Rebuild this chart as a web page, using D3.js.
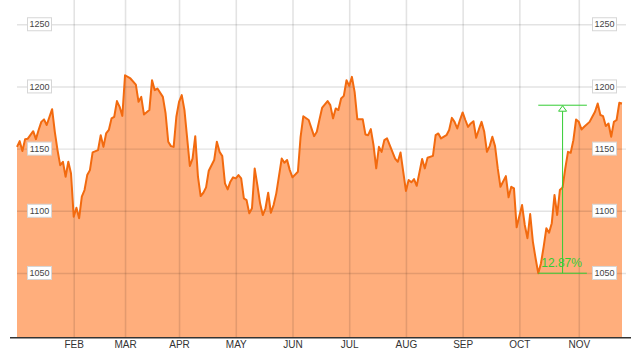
<!DOCTYPE html>
<html>
<head>
<meta charset="utf-8">
<script src="https://cdnjs.cloudflare.com/ajax/libs/d3/7.8.5/d3.min.js"></script>
<style>
    html, body { margin: 0; padding: 0; background: #fff; }
    svg { display: block; font-family: Arial, "Liberation Sans", sans-serif; }
    .grid line { stroke: #000; stroke-opacity: 0.11; }
    .grid path { display: none; }
    .area { fill: #ffae7c; }
    .price { fill: none; stroke: #f26a0f; stroke-width: 2; stroke-linejoin: round; }
    .value-label rect { fill: #fff; stroke: #d6d6d6; }
    .value-label text { font-size: 9px; fill: #444; }
    .month-axis path { display: none; }
    .month-axis text { font-size: 10px; fill: #333; }
    .baseline { stroke: #333; stroke-width: 1.5; }
    .swing line { stroke: #33cc33; stroke-width: 1; }
    .swing path { fill: #fff; stroke: #33cc33; stroke-width: 1; }
    .swing text { fill: #33cc33; font-size: 12px; }
</style>
</head>
<body>
<div id="chart"></div>
<script>
(function () {
    "use strict";

    // [trading session, close]
    const prices = [
        [0, 1151.4], [1, 1156], [2, 1148], [3, 1157.6], [4, 1158], [6, 1164], [7, 1157.6], [8, 1165],
        [9, 1171.5], [10, 1173.5], [11, 1169], [13, 1181.7], [14, 1163.5], [15, 1148.8], [16, 1136.7],
        [17, 1139.4], [18, 1127.4], [19, 1139.4], [20, 1130], [21, 1095.2], [22, 1102.5], [23, 1094],
        [24, 1111.3], [25, 1116.7], [26, 1128.7], [27, 1132.7], [28, 1146.9], [30, 1148.8], [31, 1160.8],
        [32, 1151.4], [33, 1162.2], [34, 1165], [35, 1174.3], [36, 1175.6], [37, 1188.2], [38, 1183.6],
        [39, 1176.3], [40, 1209], [42, 1206.4], [44, 1201.5], [45, 1187.6], [46, 1191.6], [47, 1177.5],
        [49, 1181], [50, 1205], [51, 1197], [52, 1198.3], [54, 1191.6], [55, 1178.5], [56, 1155.5],
        [57, 1152], [58, 1151.4], [59, 1175.6], [60, 1187.6], [61, 1193], [62, 1181], [64, 1136],
        [65, 1142], [66, 1160], [67, 1127.4], [68, 1111.8], [69, 1114.5], [70, 1118.8], [71, 1132.2],
        [73, 1140.8], [74, 1155.5], [75, 1147.4], [76, 1144], [77, 1122], [78, 1117.2], [79, 1123.4],
        [80, 1126.9], [81, 1126.1], [82, 1128.7], [83, 1126.1], [84, 1110], [85, 1108.6], [86, 1097.9],
        [87, 1102], [88, 1134], [89, 1120.7], [90, 1106], [91, 1096.6], [92, 1102], [93, 1114.5],
        [94, 1098.4], [95, 1104.6], [96, 1114], [98, 1142], [99, 1138.6], [100, 1140.8], [101, 1132.7],
        [102, 1126.9], [104, 1131.4], [105, 1159.5], [106, 1176], [108, 1173], [110, 1160], [111, 1163.5],
        [112, 1173.5], [113, 1183], [115, 1188.2], [116, 1185], [117, 1174.3], [118, 1182.3], [119, 1181],
        [120, 1190.3], [121, 1192.4], [122, 1205], [123, 1200.4], [124, 1207.7], [125, 1195.6],
        [126, 1173.7], [128, 1173.7], [129, 1161.4], [130, 1160.8], [131, 1165.7], [132, 1152.8],
        [133, 1134.1], [134, 1151.4], [135, 1147.4], [136, 1156.8], [137, 1158.2], [138, 1152.8],
        [140, 1142], [141, 1139.4], [142, 1146.9], [143, 1131.4], [144, 1116], [145, 1124.7],
        [146, 1122.9], [147, 1125.5], [148, 1120.1], [149, 1130.9], [150, 1141.6], [151, 1134.1],
        [152, 1142.6], [154, 1144.2], [155, 1160.8], [156, 1162.2], [157, 1158.2], [159, 1160.8],
        [160, 1164.9], [161, 1174.7], [162, 1171.5], [163, 1166.2], [164, 1173], [165, 1179.1],
        [166, 1173], [167, 1167.5], [168, 1170.2], [169, 1172], [170, 1158.7], [171, 1165.4],
        [172, 1171.5], [173, 1163.5], [174, 1147.4], [175, 1152], [176, 1159.5], [177, 1152],
        [178, 1134.1], [179, 1119.3], [181, 1127.9], [182, 1110.8], [183, 1119.3], [184, 1118],
        [185, 1086.7], [186, 1095.8], [187, 1104.6], [188, 1088.6], [189, 1077.9], [190, 1097.4],
        [191, 1075.2], [192, 1061.8], [193, 1049.8], [194, 1057.8], [195, 1071.2], [196, 1086],
        [197, 1082.4], [198, 1090], [199, 1112.7], [200, 1096.6], [201, 1116.7], [202, 1118.8],
        [203, 1134.1], [204, 1147.4], [205, 1146.6], [206, 1156.8], [207, 1173.4], [208, 1171.5],
        [209, 1165.4], [210, 1167.5], [212, 1171.5], [213, 1175.6], [214, 1179.6], [215, 1186.3],
        [216, 1177], [217, 1176.1], [218, 1168.1], [219, 1170.2], [220, 1159.5], [221, 1171.5],
        [222, 1173], [223, 1186.8], [224, 1186.3]
    ];

    const monthSessions = [21, 40, 60, 81, 102, 123, 144, 165, 186, 208];
    const monthLabels = ["FEB", "MAR", "APR", "MAY", "JUN", "JUL", "AUG", "SEP", "OCT", "NOV"];
    const valueTicks = [1050, 1100, 1150, 1200, 1250];

    // swing measured from the october low
    const swingSessions = [193, 211];
    const swingValues = [1049.8, 1184.9];

    const width = 631;
    const height = 351;
    const plot = { left: 17, right: 622, top: 0, bottom: 337 };

    const xScale = d3.scaleLinear()
        .domain(d3.extent(prices, d => d[0]))
        .range([plot.left, plot.right]);

    const yScale = d3.scaleLinear()
        .domain([998.5, 1269.5])
        .range([plot.bottom, plot.top]);

    const svg = d3.select("#chart").append("svg")
        .attr("width", width)
        .attr("height", height);

    const area = d3.area()
        .x(d => xScale(d[0]))
        .y0(plot.bottom)
        .y1(d => yScale(d[1]));

    const line = d3.line()
        .x(d => xScale(d[0]))
        .y(d => yScale(d[1]));

    svg.append("path")
        .attr("class", "area")
        .attr("d", area(prices));

    // vertical grid at month starts
    svg.append("g")
        .attr("class", "grid")
        .attr("transform", `translate(0,${plot.bottom})`)
        .call(d3.axisBottom(xScale)
            .tickValues(monthSessions)
            .tickSize(-(plot.bottom - plot.top))
            .tickFormat(""))
        .selectAll("line")
        .style("stroke-width", 1.6);

    svg.append("g")
        .attr("class", "grid")
        .attr("transform", `translate(${plot.left},0)`)
        .call(d3.axisLeft(yScale)
            .tickValues(valueTicks)
            .tickSize(-(626 - plot.left))
            .tickFormat(""))
        .selectAll("line")
        .style("stroke-width", 1.4);

    svg.append("path")
        .attr("class", "price")
        .attr("d", line(prices));

    svg.append("line")
        .attr("class", "baseline")
        .attr("x1", 10)
        .attr("x2", width)
        .attr("y1", plot.bottom + 0.75)
        .attr("y2", plot.bottom + 0.75);

    const monthAxis = svg.append("g")
        .attr("class", "month-axis")
        .attr("transform", `translate(0,${plot.bottom})`)
        .call(d3.axisBottom(xScale)
            .tickValues(monthSessions)
            .tickSize(0)
            .tickPadding(4)
            .tickFormat((d, i) => monthLabels[i]));

    monthAxis.selectAll("text").attr("font-family", null).attr("font-size", null);

    // boxed value labels on both sides
    for (const cx of [39.5, 604.5]) {
        const labels = svg.append("g")
            .selectAll("g")
            .data(valueTicks)
            .join("g")
            .attr("class", "value-label")
            .attr("transform", d => `translate(${cx},${yScale(d)})`);

        labels.append("rect")
            .attr("x", -12)
            .attr("y", -6.5)
            .attr("width", 24)
            .attr("height", 13);

        labels.append("text")
            .attr("text-anchor", "middle")
            .attr("dy", "0.35em")
            .text(d => d);
    }

    // percentage swing marker
    const swing = svg.append("g").attr("class", "swing");
    const sx0 = xScale(swingSessions[0]);
    const sx1 = xScale(swingSessions[1]);
    const sxm = xScale((swingSessions[0] + swingSessions[1]) / 2);
    const syLow = yScale(swingValues[0]);
    const syHigh = yScale(swingValues[1]);

    swing.append("line")
        .attr("x1", sx0).attr("x2", sx1)
        .attr("y1", syLow).attr("y2", syLow);

    swing.append("line")
        .attr("x1", sx0).attr("x2", sx1)
        .attr("y1", syHigh).attr("y2", syHigh);

    swing.append("line")
        .attr("x1", sxm).attr("x2", sxm)
        .attr("y1", syLow).attr("y2", syHigh + 5);

    swing.append("path")
        .attr("d", `M${sxm},${syHigh + 0.5}L${sxm + 4},${syHigh + 6}H${sxm - 4}Z`);

    const change = (swingValues[1] / swingValues[0] - 1) * 100;

    swing.append("text")
        .attr("x", sx0 + 3)
        .attr("y", syLow - 6)
        .text(change.toFixed(2) + "%");
}());
</script>
</body>
</html>
